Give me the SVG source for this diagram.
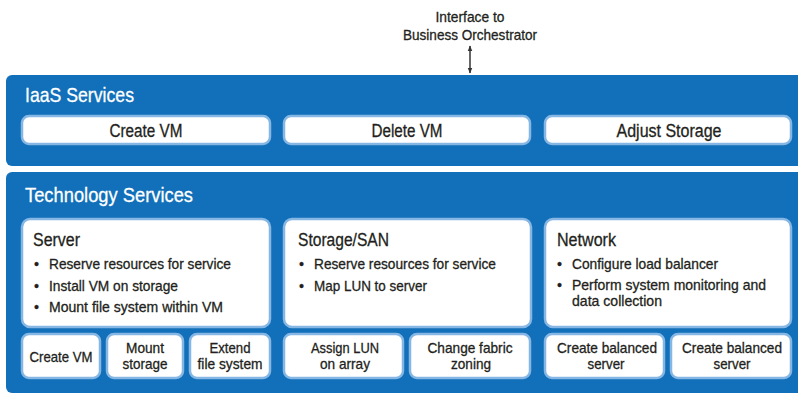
<svg xmlns="http://www.w3.org/2000/svg" width="798" height="394" viewBox="0 0 798 394">
<defs>
<style>
text{font-family:"Liberation Sans",Arial,sans-serif;fill:#231f20;stroke:#231f20;stroke-width:0.3;}
.panel{fill:#1170b9;}
.title{fill:#ffffff;stroke:#ffffff;font-size:21px;}
.box{fill:#ffffff;stroke:#86b6e3;stroke-width:2.5;}
.big{font-size:18px;text-anchor:middle;}
.head{font-size:18px;}
.bul{font-size:14.3px;}
.sm{font-size:14.3px;text-anchor:middle;}
.lbl{font-size:15px;text-anchor:middle;}
</style>
<marker id="ah" viewBox="0 0 10 10" refX="9" refY="5" markerWidth="6" markerHeight="6" orient="auto-start-reverse" markerUnits="userSpaceOnUse">
<path d="M0,1 L10,5 L0,9 Z" fill="#333333"/>
</marker>
</defs>
<rect width="798" height="394" fill="#ffffff"/>

<g id="iaas">
<path class="panel" d="M12,75 H798 V166 H12 A6,6 0 0 1 6,160 V81 A6,6 0 0 1 12,75 Z"/>
<text class="title" x="25" y="102" textLength="109" lengthAdjust="spacingAndGlyphs">IaaS Services</text>
</g>
<g id="iaas-create-vm"><rect class="box" x="22" y="116" width="248" height="28" rx="7"/><text class="big" x="146" y="137" textLength="73" lengthAdjust="spacingAndGlyphs">Create VM</text></g>
<g id="iaas-delete-vm"><rect class="box" x="284" y="116" width="246" height="28" rx="7"/><text class="big" x="407" y="137" textLength="71" lengthAdjust="spacingAndGlyphs">Delete VM</text></g>
<g id="iaas-adjust-storage"><rect class="box" x="545" y="116" width="246" height="28" rx="7"/><text class="big" x="669" y="137" textLength="105" lengthAdjust="spacingAndGlyphs">Adjust Storage</text></g>

<g id="tech">
<path class="panel" d="M12,172 H798 V393 H12 A6,6 0 0 1 6,387 V178 A6,6 0 0 1 12,172 Z"/>
<text class="title" x="25" y="202" textLength="168" lengthAdjust="spacingAndGlyphs">Technology Services</text>
</g>

<g id="server">
<rect class="box" x="22" y="219" width="248" height="108" rx="8"/>
<text class="head" x="33" y="246" textLength="47" lengthAdjust="spacingAndGlyphs">Server</text>
<text class="bul" x="34" y="269">•</text><text class="bul" x="49" y="269" textLength="182" lengthAdjust="spacingAndGlyphs">Reserve resources for service</text>
<text class="bul" x="34" y="291">•</text><text class="bul" x="49" y="291" textLength="129" lengthAdjust="spacingAndGlyphs">Install VM on storage</text>
<text class="bul" x="34" y="312">•</text><text class="bul" x="49" y="312" textLength="174" lengthAdjust="spacingAndGlyphs">Mount file system within VM</text>
</g>
<g id="storage">
<rect class="box" x="284" y="219" width="247" height="108" rx="8"/>
<text class="head" x="298" y="246" textLength="91" lengthAdjust="spacingAndGlyphs">Storage/SAN</text>
<text class="bul" x="299" y="269">•</text><text class="bul" x="314" y="269" textLength="182" lengthAdjust="spacingAndGlyphs">Reserve resources for service</text>
<text class="bul" x="299" y="291">•</text><text class="bul" x="314" y="291" textLength="113" lengthAdjust="spacingAndGlyphs">Map LUN to server</text>
</g>
<g id="network">
<rect class="box" x="545" y="219" width="246" height="108" rx="8"/>
<text class="head" x="557" y="246" textLength="59" lengthAdjust="spacingAndGlyphs">Network</text>
<text class="bul" x="557" y="269">•</text><text class="bul" x="572" y="269" textLength="146" lengthAdjust="spacingAndGlyphs">Configure load balancer</text>
<text class="bul" x="557" y="290">•</text><text class="bul" x="572" y="290" textLength="194" lengthAdjust="spacingAndGlyphs">Perform system monitoring and</text>
<text class="bul" x="572" y="306" textLength="90" lengthAdjust="spacingAndGlyphs">data collection</text>
</g>

<g id="t-create-vm"><rect class="box" x="22" y="334" width="78" height="44" rx="7"/><text class="sm" x="61" y="362" textLength="63" lengthAdjust="spacingAndGlyphs">Create VM</text></g>
<g id="t-mount-storage"><rect class="box" x="107" y="334" width="76" height="44" rx="7"/><text class="sm" x="145" y="353" textLength="38" lengthAdjust="spacingAndGlyphs">Mount</text><text class="sm" x="145" y="369" textLength="45" lengthAdjust="spacingAndGlyphs">storage</text></g>
<g id="t-extend-fs"><rect class="box" x="190" y="334" width="80" height="44" rx="7"/><text class="sm" x="230" y="353" textLength="41" lengthAdjust="spacingAndGlyphs">Extend</text><text class="sm" x="230" y="369" textLength="65" lengthAdjust="spacingAndGlyphs">file system</text></g>
<g id="t-assign-lun"><rect class="box" x="284" y="334" width="119" height="44" rx="7"/><text class="sm" x="345" y="353" textLength="68" lengthAdjust="spacingAndGlyphs">Assign LUN</text><text class="sm" x="345" y="369" textLength="50" lengthAdjust="spacingAndGlyphs">on array</text></g>
<g id="t-change-zoning"><rect class="box" x="410" y="334" width="120" height="44" rx="7"/><text class="sm" x="470" y="353" textLength="85" lengthAdjust="spacingAndGlyphs">Change fabric</text><text class="sm" x="471" y="369" textLength="40" lengthAdjust="spacingAndGlyphs">zoning</text></g>
<g id="t-balanced-1"><rect class="box" x="545" y="334" width="119" height="44" rx="7"/><text class="sm" x="607" y="353" textLength="100" lengthAdjust="spacingAndGlyphs">Create balanced</text><text class="sm" x="606" y="369" textLength="37" lengthAdjust="spacingAndGlyphs">server</text></g>
<g id="t-balanced-2"><rect class="box" x="671" y="334" width="120" height="44" rx="7"/><text class="sm" x="732" y="353" textLength="100" lengthAdjust="spacingAndGlyphs">Create balanced</text><text class="sm" x="732" y="369" textLength="37" lengthAdjust="spacingAndGlyphs">server</text></g>

<g id="interface">
<text class="lbl" x="470" y="22" textLength="69" lengthAdjust="spacingAndGlyphs">Interface to</text>
<text class="lbl" x="470" y="40" textLength="134" lengthAdjust="spacingAndGlyphs">Business Orchestrator</text>
</g>

<g id="connectors">
<line x1="470" y1="46" x2="470" y2="73" stroke="#333333" stroke-width="1.5" marker-start="url(#ah)" marker-end="url(#ah)"/>
</g>
</svg>
